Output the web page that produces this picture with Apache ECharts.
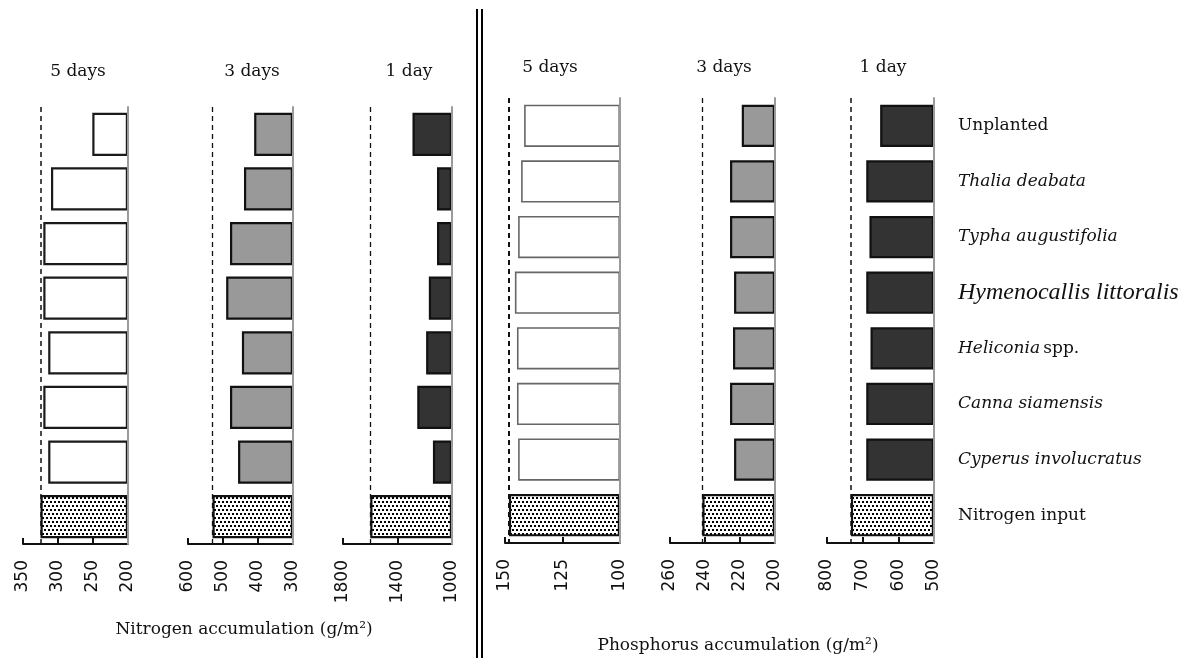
<!DOCTYPE html>
<html>
<head>
<meta charset="utf-8">
<script src="https://cdn.jsdelivr.net/npm/echarts@6/dist/echarts.min.js"></script>
<style>
  html, body { margin: 0; padding: 0; background: #fff; }
  #chart { width: 1185px; height: 664px; }
</style>
</head>
<body>
<div id="chart"></div>
<script>
// Treatments, top to bottom
const categories = [
  'Unplanted', 'Thalia deabata', 'Typha augustifolia', 'Hymenocallis littoralis',
  'Heliconia spp.', 'Canna siamensis', 'Cyperus involucratus', 'Nitrogen input'
];

// Nitrogen accumulation (g/m2) by retention time
const nitrogen5d = [251, 310, 321, 321, 314, 321, 314];
const nitrogen3d = [411, 440, 480, 491, 446, 480, 457];
const nitrogen1d = [1290, 1110, 1110, 1170, 1190, 1255, 1140];
const nitrogenInput = [325, 530, 1600];

// Phosphorus accumulation (g/m2) by retention time
const phosphorus5d = [141.7, 143, 144.3, 145.7, 144.8, 144.8, 144.3];
const phosphorus3d = [219, 225.7, 225.7, 223.4, 224, 225.7, 223.4];
const phosphorus1d = [651, 690, 681, 690, 678, 690, 690];
const phosphorusInput = [148.3, 241.5, 733];

// Axis tick labels for each panel
const ticksN5 = [200, 250, 300, 350];
const ticksN3 = [300, 400, 500, 600];
const ticksN1 = [1000, 1400, 1800];
const ticksP5 = [100, 125, 150];
const ticksP3 = [200, 220, 240, 260];
const ticksP1 = [500, 600, 700, 800];

const panelTitles = ['5 days', '3 days', '1 day', '5 days', '3 days', '1 day'];
const axisTitles = ['Nitrogen accumulation (g/m²)', 'Phosphorus accumulation (g/m²)'];

// Stippled fill for the input bars
function stipple() {
  const c = document.createElement('canvas');
  c.width = 8; c.height = 8;
  const g = c.getContext('2d');
  g.fillStyle = '#fff'; g.fillRect(0, 0, 8, 8);
  g.fillStyle = '#000';
  g.fillRect(0, 1, 2, 2);
  g.fillRect(4, 1, 2, 2);
  g.fillRect(2, 5, 2, 2);
  g.fillRect(6, 5, 2, 2);
  return { image: c, repeat: 'repeat' };
}
const stipplePattern = stipple();

// Panel geometry and styling
const panels = [
  { values: nitrogen5d, input: nitrogenInput[0], ticks: ticksN5, left: 23, width: 105, top: 107, height: 437, fill: '#fff', border: '#1a1a1a', bw: 2.2, dash: 1.5, tx: 78, ty: 72 },
  { values: nitrogen3d, input: nitrogenInput[1], ticks: ticksN3, left: 188, width: 105, top: 107, height: 437, fill: '#999', border: '#111', bw: 2.2, dash: 1.3, tx: 252, ty: 72 },
  { values: nitrogen1d, input: nitrogenInput[2], ticks: ticksN1, left: 343, width: 109, top: 107, height: 437, fill: '#333', border: '#111', bw: 2.2, dash: 1.3, tx: 409, ty: 72 },
  { values: phosphorus5d, input: phosphorusInput[0], ticks: ticksP5, left: 505, width: 115, top: 98, height: 445, fill: '#fff', border: '#666', bw: 1.6, dash: 2, tx: 550, ty: 68 },
  { values: phosphorus3d, input: phosphorusInput[1], ticks: ticksP3, left: 670, width: 105, top: 98, height: 445, fill: '#999', border: '#111', bw: 2.2, dash: 1.3, tx: 724, ty: 68 },
  { values: phosphorus1d, input: phosphorusInput[2], ticks: ticksP1, left: 827, width: 107, top: 98, height: 445, fill: '#333', border: '#111', bw: 2.2, dash: 1.5, tx: 883, ty: 68 }
];

function categoryLabel(value) {
  if (value === 'Unplanted' || value === 'Nitrogen input') return '{n|' + value + '}';
  if (value === 'Hymenocallis littoralis') return '{h|' + value + '}';
  if (value === 'Heliconia spp.') return '{i|Heliconia} {n|spp.}';
  return '{i|' + value + '}';
}

const grid = [], xAxis = [], yAxis = [], series = [], graphic = [];

panels.forEach((p, k) => {
  const lo = Math.min.apply(null, p.ticks);
  const hi = Math.max.apply(null, p.ticks);
  const last = k === panels.length - 1;
  grid.push({ left: p.left, width: p.width, top: p.top, height: p.height });
  xAxis.push({
    type: 'value', gridIndex: k, inverse: true, min: lo, max: hi, startValue: lo,
    splitLine: { show: false },
    axisLine: { show: true, onZero: false, lineStyle: { color: '#111', width: 2 } },
    axisTick: { show: true, inside: true, length: 6, customValues: p.ticks, lineStyle: { color: '#111', width: 2 } },
    axisLabel: {
      show: true, rotate: 90, margin: 16, customValues: p.ticks,
      formatter: v => String(v),
      fontFamily: 'DejaVu Sans', fontSize: 17, color: '#111'
    }
  });
  yAxis.push({
    type: 'category', gridIndex: k, data: categories, inverse: true, position: 'right', z: 5,
    axisLine: { show: true, onZero: false, lineStyle: { color: '#9a9a9a', width: 2 } },
    axisTick: { show: false },
    splitLine: { show: false },
    axisLabel: last ? {
      show: true, margin: 24, align: 'left', formatter: categoryLabel,
      rich: {
        n: { fontFamily: 'DejaVu Serif', fontSize: 17, color: '#111' },
        i: { fontFamily: 'DejaVu Serif', fontStyle: 'italic', fontSize: 17, color: '#111' },
        h: { fontFamily: 'Liberation Serif', fontStyle: 'italic', fontSize: 24, color: '#111' }
      }
    } : { show: false }
  });
  const data = p.values.map(v => v).concat([{
    value: p.input,
    itemStyle: { color: stipplePattern, borderColor: '#111', borderWidth: 2.2 }
  }]);
  series.push({
    type: 'bar', xAxisIndex: k, yAxisIndex: k, data: data, clip: true,
    barCategoryGap: k < 3 ? '21%' : '24%',
    itemStyle: { color: p.fill, borderColor: p.border, borderWidth: p.bw },
    markLine: {
      silent: true, symbol: 'none', label: { show: false },
      lineStyle: { type: [5, 4], color: '#111', width: p.dash },
      data: [{ xAxis: p.input }]
    }
  });
  graphic.push({
    type: 'text', x: p.tx, y: p.ty,
    style: { text: panelTitles[k], align: 'center', verticalAlign: 'middle', font: '17px "DejaVu Serif"', fill: '#111' }
  });
});

graphic.push(
  { type: 'text', x: 244, y: 630, style: { text: axisTitles[0], align: 'center', verticalAlign: 'middle', font: '17px "DejaVu Serif"', fill: '#111' } },
  { type: 'text', x: 738, y: 646, style: { text: axisTitles[1], align: 'center', verticalAlign: 'middle', font: '17px "DejaVu Serif"', fill: '#111' } },
  { type: 'line', shape: { x1: 477, y1: 9, x2: 477, y2: 658 }, style: { stroke: '#000', lineWidth: 2 } },
  { type: 'line', shape: { x1: 482, y1: 9, x2: 482, y2: 658 }, style: { stroke: '#000', lineWidth: 2 } }
);

const chart = echarts.init(document.getElementById('chart'), null, { renderer: 'canvas' });
chart.setOption({
  backgroundColor: '#fff',
  animation: false,
  grid, xAxis, yAxis, series, graphic
});
</script>
</body>
</html>
